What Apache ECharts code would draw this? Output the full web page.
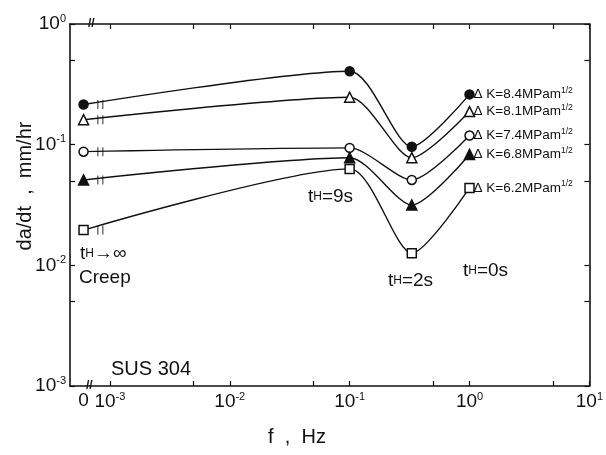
<!DOCTYPE html>
<html><head><meta charset="utf-8">
<script src="https://cdn.jsdelivr.net/npm/echarts@6/dist/echarts.min.js"></script>
<style>html,body{margin:0;padding:0;background:#fff}#c{width:606px;height:455px}</style>
</head><body><div id="c"></div>
<script>
// ---- data ----
const freqHz = [0, 0.1, 0.33, 1];            // 0 = creep (tH -> infinity)
const dKLabels = ['8.4', '8.1', '7.4', '6.8', '6.2'];
const rate84 = [0.215, 0.406, 0.096, 0.261];
const rate81 = [0.161, 0.247, 0.078, 0.188];
const rate74 = [0.0875, 0.094, 0.051, 0.119];
const rate68 = [0.051, 0.078, 0.0316, 0.083];
const rate62 = [0.0196, 0.063, 0.0126, 0.0438];
const xDecades = [-3, -2, -1, 0, 1];
const yDecades = [-3, -2, -1, 0];

// ---- axis conventions ----
const ZERO_AT = -3.22;     // broken-axis position where f = 0 is drawn
const BREAK_AT = -3.08;    // position of the "||" break marks
const X_MIN = -3.333, X_MAX = 1;
const toX = f => f === 0 ? ZERO_AT : Math.log10(f);
const toY = v => Math.log10(v);

const FONT = 'Liberation Sans';
const ink = '#111';

const seriesDefs = [
  {vals: rate84, sym: 'circle', filled: true, size: 9},
  {vals: rate81, sym: 'triangle', filled: false, size: 10},
  {vals: rate74, sym: 'circle', filled: false, size: 9},
  {vals: rate68, sym: 'triangle', filled: true, size: 10},
  {vals: rate62, sym: 'rect', filled: false, size: 9}
];

const minorX = [];
xDecades.forEach(d => { minorX.push(d); if (d < 1) minorX.push(d + Math.log10(5)); });
const minorY = [];
yDecades.forEach(d => { minorY.push(d); if (d < 0) minorY.push(d + Math.log10(5)); });

const expRich = {
  b: {fontFamily: FONT, fontSize: 19, color: ink, fontWeight: 'normal'},
  s: {fontFamily: FONT, fontSize: 11, color: ink, padding: [0, 0, 11, 0]}
};
function decLabel(v) {
  if (Math.abs(v - ZERO_AT) < 0.01) return '{b|0}';
  const e = Math.round(v);
  return '{b|10}{s|' + (e < 0 ? '-' + (-e) : e) + '}';
}

const series = [];
seriesDefs.forEach((s, i) => {
  series.push({
    type: 'line',
    data: freqHz.map((f, j) => [toX(f), toY(s.vals[j])]),
    smooth: 0.25,
    symbol: s.sym,
    symbolSize: s.size,
    showAllSymbol: true,
    lineStyle: {color: ink, width: 1.4},
    itemStyle: {color: s.filled ? ink : '#fff', borderColor: ink, borderWidth: 1.5},
    endLabel: {
      show: true,
      distance: 4,
      formatter: () => '{t|\u0394 K=' + dKLabels[i] + 'MPam}{s|1/2}',
      rich: {
        t: {fontFamily: FONT, fontSize: 13.5, color: ink},
        s: {fontFamily: FONT, fontSize: 8.5, color: ink, padding: [0, 0, 8, 0]}
      }
    },
    z: 3
  });
});
// break marks on each line near the creep point
series.push({
  type: 'scatter',
  data: seriesDefs.map(s => [BREAK_AT, toY(s.vals[0])]),
  symbol: 'path://M0,0L0,10M4,0L4,10',
  symbolSize: [5, 9],
  itemStyle: {color: 'none', borderColor: ink, borderWidth: 1.5},
  silent: true, z: 4
});

const baseX = {
  type: 'value', min: X_MIN, max: X_MAX,
  splitLine: {show: false},
  axisLine: {show: true, onZero: false, lineStyle: {color: ink, width: 1.6}},
  axisTick: {show: true, inside: true, length: 5, lineStyle: {color: ink, width: 1.2}, customValues: minorX},
};
const baseY = {
  type: 'value', min: -3, max: 0,
  splitLine: {show: false},
  axisLine: {show: true, onZero: false, lineStyle: {color: ink, width: 1.6}},
  axisTick: {show: true, inside: true, length: 5, lineStyle: {color: ink, width: 1.2}, customValues: minorY},
};

const tRich = {t: {font: '19px ' + FONT, fill: ink}, h: {font: '12px ' + FONT, fill: ink}};

const chart = echarts.init(document.getElementById('c'), null, {renderer: 'canvas'});
chart.setOption({
  animation: false,
  backgroundColor: '#fff',
  grid: {left: 70, right: 16, top: 24, bottom: 69},
  xAxis: [
    Object.assign({}, baseX, {
      position: 'bottom',
      axisLabel: {customValues: [ZERO_AT].concat(xDecades), formatter: decLabel, rich: expRich, margin: 5, showMinLabel: true, showMaxLabel: true}
    }),
    Object.assign({}, baseX, {position: 'top', axisLabel: {show: false}})
  ],
  yAxis: [
    Object.assign({}, baseY, {
      position: 'left',
      axisLabel: {customValues: yDecades, formatter: decLabel, rich: expRich, margin: 4, showMinLabel: true, showMaxLabel: true}
    }),
    Object.assign({}, baseY, {position: 'right', axisLabel: {show: false}})
  ],
  series: series,
  graphic: [
    {type: 'text', x: 25, y: 186, rotation: Math.PI / 2,
     style: {text: 'da/dt  ,  mm/hr', font: '20px ' + FONT, fill: ink, textAlign: 'center', textVerticalAlign: 'middle'}},
    {type: 'text', x: 297, y: 437,
     style: {text: 'f  ,  Hz', font: '20px ' + FONT, fill: ink, textAlign: 'center', textVerticalAlign: 'middle'}},
    {type: 'text', x: 111, y: 369,
     style: {text: 'SUS 304', font: '20px ' + FONT, fill: ink, textVerticalAlign: 'middle'}},
    {type: 'text', x: 80, y: 254,
     style: {text: '{t|t}{h|H}{t|\u2192\u221E}', rich: tRich, textVerticalAlign: 'middle'}},
    {type: 'text', x: 79, y: 278,
     style: {text: 'Creep', font: '19px ' + FONT, fill: ink, textVerticalAlign: 'middle'}},
    {type: 'text', x: 308, y: 197,
     style: {text: '{t|t}{h|H}{t|=9s}', rich: tRich, textVerticalAlign: 'middle'}},
    {type: 'text', x: 388, y: 281,
     style: {text: '{t|t}{h|H}{t|=2s}', rich: tRich, textVerticalAlign: 'middle'}},
    {type: 'text', x: 463, y: 271,
     style: {text: '{t|t}{h|H}{t|=0s}', rich: tRich, textVerticalAlign: 'middle'}},
    {type: 'text', x: 88, y: 24,
     style: {text: '//', font: 'bold 12px ' + FONT, fill: ink, textVerticalAlign: 'middle'}},
    {type: 'text', x: 86, y: 386,
     style: {text: '//', font: 'bold 12px ' + FONT, fill: ink, textVerticalAlign: 'middle'}}
  ]
});
</script>
</body></html>
